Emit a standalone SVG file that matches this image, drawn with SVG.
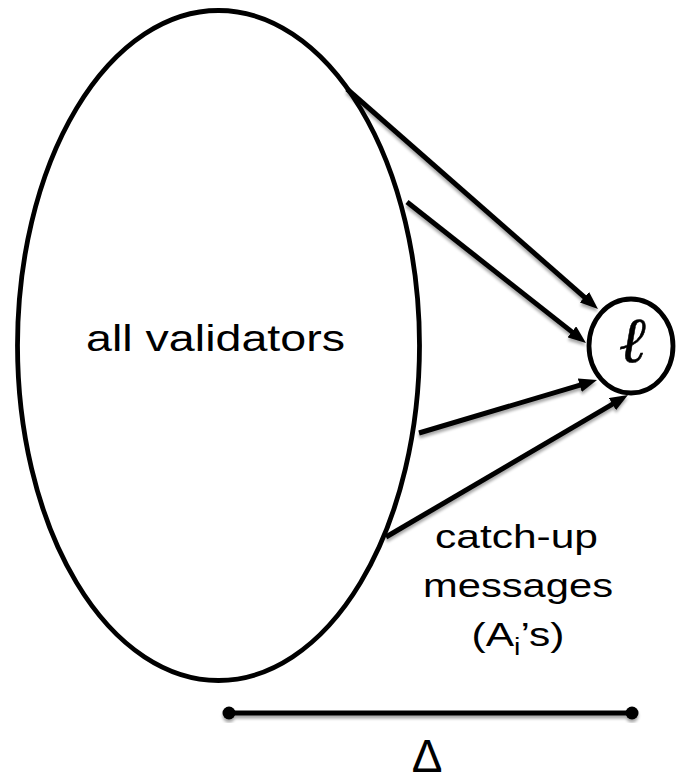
<svg xmlns="http://www.w3.org/2000/svg" width="679" height="781" viewBox="0 0 679 781">
<style>
  .shape { fill: #ffffff; stroke: #000000; stroke-width: 4.8; }
  .conn { stroke: #000000; stroke-width: 5; fill: none; }
  .lbl { font-family: "Liberation Sans", Arial, sans-serif; fill: #000000; }
</style>
<defs>
  <marker id="ah" markerUnits="userSpaceOnUse" markerWidth="18" markerHeight="14" viewBox="0 0 18 14" refX="9" refY="7" orient="auto">
    <path d="M0,0 L18,7 L0,14 z" fill="#000000"/>
  </marker>
  <filter id="sh" x="-10%" y="-10%" width="120%" height="130%">
    <feGaussianBlur in="SourceAlpha" stdDeviation="1.6"/>
    <feOffset dx="0" dy="3" result="b"/>
    <feComponentTransfer><feFuncA type="linear" slope="0.35"/></feComponentTransfer>
    <feMerge><feMergeNode/><feMergeNode in="SourceGraphic"/></feMerge>
  </filter>
</defs>
<rect width="679" height="781" fill="#ffffff"/>

<g id="validators">
  <ellipse class="shape" cx="218.5" cy="345.5" rx="201" ry="335"/>
  <text class="lbl" x="215.5" y="351" font-size="36" text-anchor="middle" textLength="259" lengthAdjust="spacingAndGlyphs">all validators</text>
</g>

<g id="leader">
  <ellipse class="shape" cx="631" cy="346" rx="42" ry="47"/>
  <text x="632" y="362" font-family="'DejaVu Serif', 'Liberation Serif', serif" font-style="italic" font-size="64" stroke="#000000" stroke-width="0.5" text-anchor="middle">ℓ</text>
</g>

<g id="connectors" filter="url(#sh)">
  <line class="conn" x1="347" y1="89" x2="591.2" y2="303.1" marker-end="url(#ah)"/>
  <line class="conn" x1="407" y1="202" x2="578.9" y2="337.4" marker-end="url(#ah)"/>
  <line class="conn" x1="419" y1="433" x2="588.4" y2="382.6" marker-end="url(#ah)"/>
  <line class="conn" x1="386" y1="537" x2="620.2" y2="399.6" marker-end="url(#ah)"/>
</g>

<g id="caption">
  <text class="lbl" x="516.5" y="548" font-size="34" text-anchor="middle" textLength="163" lengthAdjust="spacingAndGlyphs">catch-up</text>
  <text class="lbl" x="518" y="597" font-size="34" text-anchor="middle" textLength="190" lengthAdjust="spacingAndGlyphs">messages</text>
  <text class="lbl" transform="translate(518,646) scale(1.25,1)" x="0" y="0" font-size="34" text-anchor="middle">(A<tspan font-size="23" dy="9">i</tspan><tspan dy="-9">’s)</tspan></text>
</g>

<g id="delta" filter="url(#sh)">
  <line class="conn" x1="229" y1="713" x2="632" y2="713"/>
  <circle cx="229" cy="713" r="6.5" fill="#000000"/>
  <circle cx="632" cy="713" r="6.5" fill="#000000"/>
</g>
<text class="lbl" x="427" y="772" font-size="46" text-anchor="middle">Δ</text>
</svg>
